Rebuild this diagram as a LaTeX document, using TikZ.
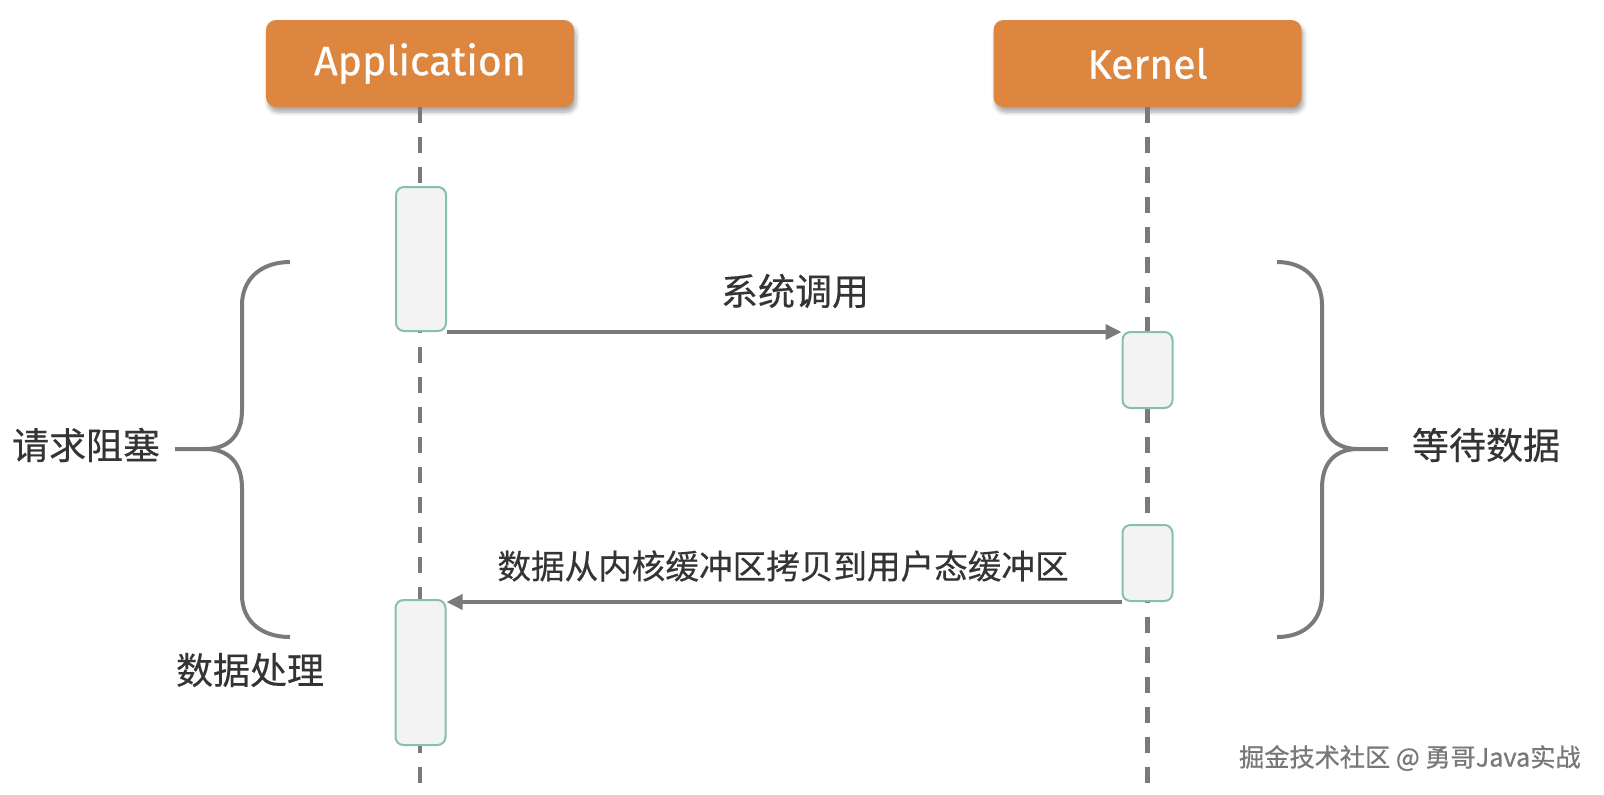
\documentclass[tikz,border=0pt]{standalone}
\usepackage{fontspec}
\setmainfont{Fira Sans}
\newfontfamily\actorfont[FakeBold=0.6]{Fira Sans}
\newfontfamily\cjk[FakeBold=0.4]{Noto Sans CJK SC}
\newfontfamily\cjkmark[FakeBold=0.8]{Noto Sans CJK SC}
\usetikzlibrary{arrows.meta,shadows.blur}
\definecolor{actorfill}{RGB}{221,134,63}
\definecolor{boxline}{RGB}{134,192,170}
\definecolor{boxfill}{RGB}{243,243,243}
\definecolor{linegray}{RGB}{122,122,122}
\definecolor{textgray}{RGB}{52,52,52}
\definecolor{markgray}{RGB}{120,120,120}

\begin{document}
\begin{tikzpicture}[x=0.5pt,y=-0.5pt,>={Triangle[length=8pt,width=7.5pt]},
  actor/.style={fill=actorfill,rounded corners=5pt,minimum width=154pt,minimum height=43.5pt,
    text=white,font=\actorfont\fontsize{20.5}{24}\selectfont,
    blur shadow={shadow xshift=1pt,shadow yshift=-2.5pt,shadow blur steps=6,shadow opacity=35}},
  act/.style={draw=boxline,line width=1pt,fill=boxfill,rounded corners=4pt,minimum width=25pt,inner sep=0pt},
  lifeline/.style={draw=linegray,line width=2.2pt,dash pattern=on 8pt off 7pt},
  msgline/.style={draw=linegray,line width=1.75pt,->},
  brace/.style={draw=linegray,line width=2pt},
  side/.style={text=textgray,inner sep=0pt,font=\cjk\fontsize{18.5}{22}\selectfont},
  msglabel/.style={text=textgray,inner sep=0pt,font=\cjk\fontsize{18.5}{22}\selectfont},
  copylabel/.style={text=textgray,inner sep=0pt,font=\cjk\fontsize{16.8}{20}\selectfont},
  watermark/.style={text=markgray,inner sep=0pt,font=\cjkmark\fontsize{12.6}{15}\selectfont}]
  \useasboundingbox (0,0) rectangle (1604,794);
  \node[actor] (app) at (420,63.5) {Application};
  \node[actor] (kern) at (1147.5,63.5) {Kernel};
  \coordinate (append) at (420,790);
  \coordinate (kernend) at (1147.5,790);
  \draw[lifeline] (app.south) -- (append);
  \draw[lifeline] (kern.south) -- (kernend);
  \node[act,minimum height=72pt] (app1) at (421,259) {};
  \node[act,minimum height=38pt] (kern1) at (1147.5,370) {};
  \node[act,minimum height=38pt] (kern2) at (1147.5,563) {};
  \node[act,minimum height=72.5pt] (app2) at (420.5,672.5) {};
  \draw[msgline] (app1.south east) -- (app1.south east -| kern1.west);
  \draw[msgline] (kern2.south west) -- (kern2.south west -| app2.east);
  \node[msglabel] (calllbl) at (795,291) {系统调用};
  \node[copylabel] (copylbl) at (783,566) {数据从内核缓冲区拷贝到用户态缓冲区};
  \node[side] (block) at (86,445) {请求阻塞};
  \node[side] (handle) at (250,670) {数据处理};
  \node[side] (wait) at (1486,445) {等待数据};
  \draw[brace] (290,262) .. controls (260,262) and (242,280) .. (242,305) -- (242,410)
    .. controls (242,436) and (228,449) .. (205,449) -- (175,449)
    (205,449) .. controls (228,449) and (242,462) .. (242,488) -- (242,595)
    .. controls (242,620) and (260,637) .. (290,637);
  \draw[brace] (1277,262) .. controls (1305,262) and (1322,280) .. (1322,305) -- (1322,410)
    .. controls (1322,436) and (1336,449) .. (1358,449) -- (1388,449)
    (1358,449) .. controls (1336,449) and (1322,462) .. (1322,488) -- (1322,595)
    .. controls (1322,620) and (1305,637) .. (1277,637);
  \node[watermark,anchor=east] (credit) at (1581,758) {掘金技术社区 @ 勇哥Java实战};
\end{tikzpicture}
\end{document}
